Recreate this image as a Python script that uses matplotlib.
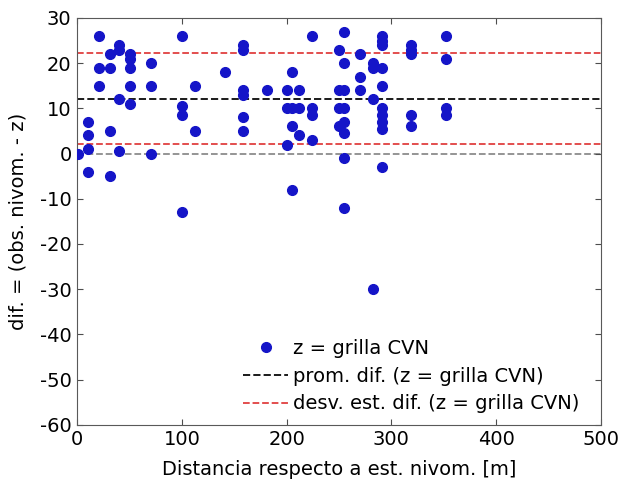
import matplotlib
matplotlib.use("Agg")
import matplotlib.pyplot as plt
import numpy as np

plt.rcParams['font.family'] = ['DejaVu Sans']
plt.rcParams['axes.unicode_minus'] = False

# distance (m) and differences
dist = [1,
        10, 10, 10, 10,
        21, 21, 21,
        31, 31, 31, 31,
        40, 40, 40, 40,
        50, 50, 50, 50, 50,
        71, 71, 71,
        100, 100, 100, 100,
        113, 113,
        141,
        158, 158, 158, 158, 158, 158,
        181,
        200, 200, 200,
        205, 205, 205, 205,
        212, 212, 212,
        224, 224, 224, 224,
        250, 250, 250, 250,
        255, 255, 255, 255, 255, 255, 255, 255,
        270, 270, 270,
        282, 282, 282, 282,
        291, 291, 291, 291, 291, 291, 291, 291, 291, 291,
        319, 319, 319, 319, 319,
        352, 352, 352, 352]
dif = [0,
       7, 4, 1, -4,
       26, 19, 15,
       22, 19, 5, -5,
       24, 23, 12, 0.5,
       22, 21, 19, 15, 11,
       20, 15, 0,
       26, 10.5, 8.6, -13,
       15, 5,
       18,
       24, 23, 14, 13, 8, 5,
       14,
       14, 10, 2,
       18, 10, 6, -8,
       14, 10, 4,
       26, 10, 8.5, 3,
       23, 14, 10, 6,
       27, 20, 14, 10, 7, 4.6, -1, -12,
       22, 17, 14,
       20, 19, 12, -30,
       26, 25, 24, 19, 15, 10, 8.5, 7, 5.5, -3,
       24, 23, 22, 8.6, 6,
       26, 21, 10, 8.6]

mean_dif = 12.1
std_dif = 10.05
x_line = [0, 500]

FS = 14

fig = plt.figure(figsize=(6.22, 4.86), dpi=100)
ax = fig.add_axes([0.124, 0.126, 0.842, 0.837])

ax.plot(x_line, [0, 0], '--', color='0.55', lw=1.3, zorder=1)
ax.plot(dist, dif, 'o', color='#1515c8', markersize=7, ls='none',
        label='z = grilla CVN', zorder=3)
ax.plot(x_line, [mean_dif, mean_dif], '--', color='0.1', lw=1.4,
        label='prom. dif. (z = grilla CVN)', zorder=2)
ax.plot(x_line, [mean_dif + std_dif] * 2, '--', color='#e04040', lw=1.3,
        label='desv. est. dif. (z = grilla CVN)', zorder=2)
ax.plot(x_line, [mean_dif - std_dif] * 2, '--', color='#e04040', lw=1.3, zorder=2)

ax.set_xlim(0, 500)
ax.set_ylim(-60, 30)
ax.set_xticks(np.arange(0, 501, 100))
ax.set_yticks(np.arange(-60, 31, 10))
ax.tick_params(direction='in', top=True, right=True, labelsize=FS, length=4,
               color='0.3', pad=4)
for s in ax.spines.values():
    s.set_color('0.35')
ax.set_xlabel('Distancia respecto a est. nivom. [m]', fontsize=FS, labelpad=8)
ax.set_ylabel('dif. = (obs. nivom. - z)', fontsize=FS, labelpad=9)

leg = ax.legend(loc='lower left', bbox_to_anchor=(0.317, 0.028), frameon=False,
                fontsize=FS, handlelength=2.3, handletextpad=0.25,
                labelspacing=0.45, borderaxespad=0.0, borderpad=0.0)

fig.savefig('out.png', dpi=100)
